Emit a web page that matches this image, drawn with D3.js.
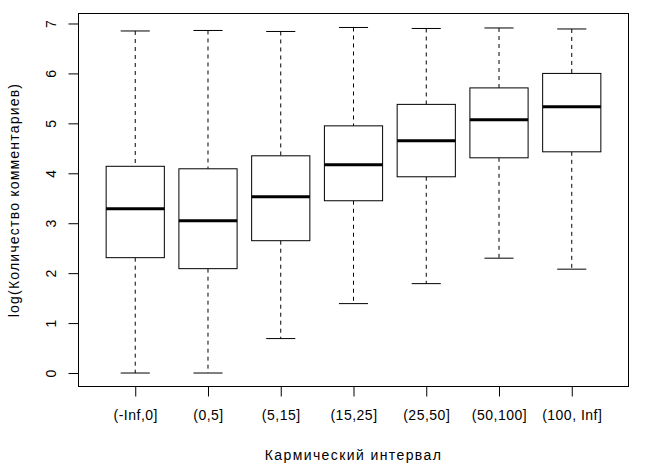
<!DOCTYPE html>
<html>
<head>
<meta charset="utf-8">
<script src="https://cdn.jsdelivr.net/npm/d3@7"></script>
<style>
  html, body { margin: 0; padding: 0; background: #fff; }
  svg { display: block; }
  text { font-family: "Liberation Sans", Arial, Helvetica, sans-serif; fill: #000; }
</style>
</head>
<body>
<svg id="chart" width="669" height="471"></svg>
<script>
const categories = ["(-Inf,0]", "(0,5]", "(5,15]", "(15,25]", "(25,50]", "(50,100]", "(100, Inf]"];
const whiskerLow  = [0.00, 0.00, 0.69, 1.39, 1.79, 2.30, 2.08];
const q1          = [2.31, 2.09, 2.65, 3.45, 3.93, 4.31, 4.43];
const medians     = [3.29, 3.05, 3.53, 4.17, 4.65, 5.07, 5.33];
const q3          = [4.14, 4.09, 4.35, 4.95, 5.38, 5.71, 6.00];
const whiskerHigh = [6.85, 6.86, 6.84, 6.92, 6.90, 6.91, 6.89];
const yTicks = [0, 1, 2, 3, 4, 5, 6, 7];
const xTitle = "Кармический интервал";
const yTitle = "log(Количество комментариев)";

(function () {
const svg = d3.select("#chart");
const pLeft = 78.5, pRight = 628.5, pTop = 13.5, pBottom = 386.5;
const fontSize = 14;

const x = d3.scalePoint().domain(categories).range([pLeft, pRight]).padding(0.78);
const y = d3.scaleLinear().domain([-0.27, 7.2]).range([pBottom, pTop]);
const boxW = x.step() * 0.8;
const capW = boxW / 2;

const data = categories.map((c, i) => ({
  c, lo: whiskerLow[i], q1: q1[i], med: medians[i], q3: q3[i], hi: whiskerHigh[i]
}));

const g = svg.append("g");
const boxes = g.selectAll("g.box").data(data).enter().append("g").attr("class", "box");

boxes.append("line")
  .attr("x1", d => x(d.c)).attr("x2", d => x(d.c))
  .attr("y1", d => y(d.hi)).attr("y2", d => y(d.q3))
  .attr("stroke", "#000").attr("stroke-dasharray", "4,4");
boxes.append("line")
  .attr("x1", d => x(d.c)).attr("x2", d => x(d.c))
  .attr("y1", d => y(d.q1)).attr("y2", d => y(d.lo))
  .attr("stroke", "#000").attr("stroke-dasharray", "4,4");
boxes.append("line")
  .attr("x1", d => x(d.c) - capW / 2).attr("x2", d => x(d.c) + capW / 2)
  .attr("y1", d => y(d.hi)).attr("y2", d => y(d.hi))
  .attr("stroke", "#000");
boxes.append("line")
  .attr("x1", d => x(d.c) - capW / 2).attr("x2", d => x(d.c) + capW / 2)
  .attr("y1", d => y(d.lo)).attr("y2", d => y(d.lo))
  .attr("stroke", "#000");
boxes.append("rect")
  .attr("x", d => x(d.c) - boxW / 2)
  .attr("y", d => y(d.q3))
  .attr("width", boxW)
  .attr("height", d => y(d.q1) - y(d.q3))
  .attr("fill", "#fff").attr("stroke", "#000");
boxes.append("line")
  .attr("x1", d => x(d.c) - boxW / 2).attr("x2", d => x(d.c) + boxW / 2)
  .attr("y1", d => y(d.med)).attr("y2", d => y(d.med))
  .attr("stroke", "#000").attr("stroke-width", 3);

svg.append("rect")
  .attr("x", pLeft).attr("y", pTop)
  .attr("width", pRight - pLeft).attr("height", pBottom - pTop)
  .attr("fill", "none").attr("stroke", "#000");

const xAxis = svg.append("g")
  .attr("transform", `translate(0,${pBottom})`)
  .call(d3.axisBottom(x).tickSize(10).tickPadding(14).tickSizeOuter(0));
xAxis.attr("font-family", null);
xAxis.select(".domain").remove();
xAxis.selectAll("text").attr("font-size", fontSize).attr("dy", "0.71em")
  .attr("letter-spacing", 0.5);

const yAxis = svg.append("g")
  .attr("transform", `translate(${pLeft},0)`)
  .call(d3.axisLeft(y).tickValues(yTicks).tickSize(10).tickSizeOuter(0).tickFormat(d3.format("d")));
yAxis.attr("font-family", null);
yAxis.select(".domain").remove();
yAxis.selectAll(".tick text")
  .attr("font-size", fontSize)
  .attr("x", null).attr("dy", null)
  .attr("text-anchor", "middle")
  .attr("transform", "translate(-23,0) rotate(-90)");

svg.append("text")
  .attr("x", (pLeft + pRight) / 2).attr("y", 460)
  .attr("text-anchor", "middle").attr("font-size", fontSize)
  .attr("letter-spacing", 1.4)
  .text(xTitle);
svg.append("text")
  .attr("transform", `translate(19,${(pTop + pBottom) / 2}) rotate(-90)`)
  .attr("text-anchor", "middle").attr("font-size", fontSize)
  .attr("letter-spacing", 1.2)
  .text(yTitle);
})();
</script>
</body>
</html>
